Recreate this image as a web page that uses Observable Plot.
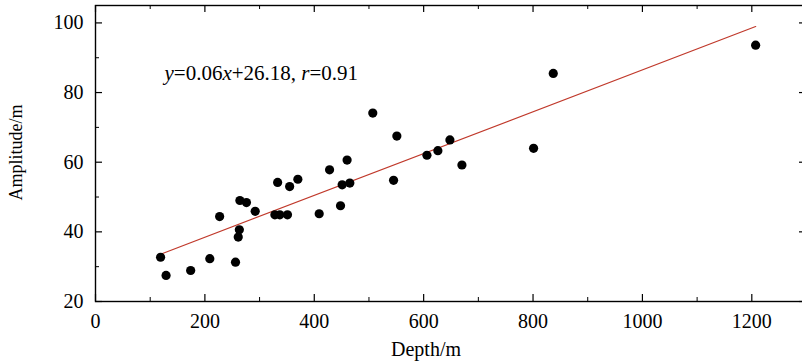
<!DOCTYPE html>
<html>
<head>
<meta charset="utf-8">
<script src="https://cdn.jsdelivr.net/npm/d3@7"></script>
<script src="https://cdn.jsdelivr.net/npm/@observablehq/plot@0.6"></script>
<style>
  html, body { margin: 0; padding: 0; background: #fff; overflow: hidden; }
  svg text { font-family: 'Liberation Serif', 'Times New Roman', serif !important; }
</style>
</head>
<body>
<div id="chart"></div>
<script>
// Data
const depth = [119, 129, 174, 209, 227, 256, 261, 263, 264, 276, 292, 328, 337, 333, 351, 355, 370, 409, 428, 448, 451, 460, 465, 507, 545, 551, 606, 626, 648, 670, 801, 837, 1207];
const amplitude = [32.7, 27.5, 28.9, 32.3, 44.4, 31.3, 38.5, 40.6, 49.0, 48.4, 45.9, 44.9, 44.9, 54.2, 44.9, 53.0, 55.1, 45.2, 57.8, 47.5, 53.5, 60.6, 54.0, 74.1, 54.8, 67.5, 62.0, 63.3, 66.4, 59.2, 64.0, 85.5, 93.6];
const xMajorTicks = [0, 200, 400, 600, 800, 1000, 1200];
const xMinorTicks = [100, 300, 500, 700, 900, 1100];
const yMajorTicks = [20, 40, 60, 80, 100];
const yMinorTicks = [30, 50, 70, 90];
const xLabel = "Depth/m";
const yLabel = "Amplitude/m";
const equationLabel = "y=0.06x+26.18, r=0.91";

const points = depth.map((d, i) => ({depth: d, amplitude: amplitude[i]}));

const W = 808, H = 364, mL = 95, mR = 2, mT = 5, mB = 63;
const innerW = W - mL - mR, innerH = H - mT - mB;
const font = "'Liberation Serif', 'Times New Roman', serif";
const majorLen = 7, minorLen = 4;

const plot = Plot.plot({
  width: W,
  height: H,
  marginLeft: mL,
  marginRight: mR,
  marginTop: mT,
  marginBottom: mB,
  style: {fontFamily: font, fontSize: "20px", color: "#000", background: "#fff", maxWidth: "none", overflow: "visible", fontVariant: "normal"},
  x: {domain: [0, 1300]},
  y: {domain: [20, 105]},
  marks: [
    Plot.axisX({ticks: xMajorTicks, tickSize: 0, tickPadding: 12, tickFormat: d => String(d), label: null, fontSize: 20, fontFamily: font}),
    Plot.axisY({ticks: yMajorTicks, tickSize: 0, tickPadding: 12, tickFormat: d => String(d), label: null, fontSize: 20, fontFamily: font}),
    // inward ticks on all four sides
    Plot.tickX(xMajorTicks, {x: d => d, insetTop: innerH - majorLen, stroke: "#000", strokeWidth: 1.2}),
    Plot.tickX(xMinorTicks, {x: d => d, insetTop: innerH - minorLen, stroke: "#000", strokeWidth: 1}),
    Plot.tickX(xMajorTicks, {x: d => d, insetBottom: innerH - majorLen, stroke: "#000", strokeWidth: 1.2}),
    Plot.tickX(xMinorTicks, {x: d => d, insetBottom: innerH - minorLen, stroke: "#000", strokeWidth: 1}),
    Plot.tickY(yMajorTicks, {y: d => d, insetRight: innerW - majorLen, stroke: "#000", strokeWidth: 1.2}),
    Plot.tickY(yMinorTicks, {y: d => d, insetRight: innerW - minorLen, stroke: "#000", strokeWidth: 1}),
    Plot.tickY(yMajorTicks, {y: d => d, insetLeft: innerW - majorLen, stroke: "#000", strokeWidth: 1.2}),
    Plot.tickY(yMinorTicks, {y: d => d, insetLeft: innerW - minorLen, stroke: "#000", strokeWidth: 1}),
    Plot.frame({stroke: "#000", strokeWidth: 1.4}),
    Plot.linearRegressionY(points, {x: "depth", y: "amplitude", ci: 0, stroke: "#c0392b", strokeWidth: 1.2}),
    Plot.dot(points, {x: "depth", y: "amplitude", r: 4.6, fill: "#000", stroke: "none"}),
    Plot.text([equationLabel], {frameAnchor: "top-left", dx: 69, dy: 68, textAnchor: "start", lineAnchor: "middle", fontSize: 21, fontFamily: font, fill: "#000", className: "eq"}),
    Plot.text([xLabel], {frameAnchor: "bottom", dx: -25, dy: 48, textAnchor: "middle", lineAnchor: "middle", fontSize: 20, fontFamily: font, fill: "#000"}),
    Plot.text([yLabel], {frameAnchor: "left", dx: -79, dy: -1, rotate: -90, textAnchor: "middle", lineAnchor: "middle", fontSize: 18, fontFamily: font, fill: "#000"})
  ]
});

document.getElementById("chart").appendChild(plot);

// italicise the variables in the equation label
const eq = plot.querySelector(".eq text");
if (eq) {
  eq.textContent = "";
  const parts = [["y", true], ["=0.06", false], ["x", true], ["+26.18, ", false], ["r", true], ["=0.91", false]];
  for (const [t, it] of parts) {
    const ts = document.createElementNS("http://www.w3.org/2000/svg", "tspan");
    ts.textContent = t;
    if (it) ts.setAttribute("font-style", "italic");
    eq.appendChild(ts);
  }
}
</script>
</body>
</html>
